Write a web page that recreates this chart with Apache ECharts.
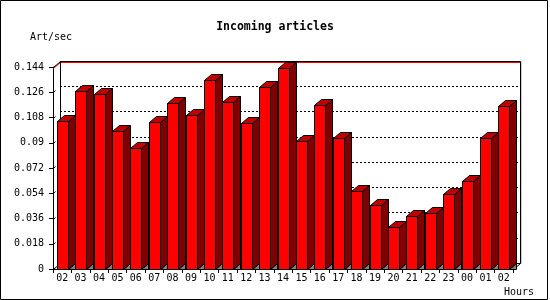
<!DOCTYPE html>
<html><head><meta charset="utf-8">
<script src="https://cdn.jsdelivr.net/npm/echarts@6/dist/echarts.min.js"></script>
<style>html,body{margin:0;padding:0;background:#fff}#c{width:550px;height:300px}</style>
</head><body><div id="c"></div>
<script>
const hours = ['02','03','04','05','06','07','08','09','10','11','12','13','14','15','16','17','18','19','20','21','22','23','00','01','02'];
const artPerSec = [0.1055,0.1269,0.1248,0.0984,0.0863,0.1048,0.1184,0.1098,0.1346,0.1190,0.1041,0.1297,0.1430,0.0913,0.1169,0.0934,0.0557,0.0458,0.0301,0.0379,0.0401,0.0536,0.0628,0.0934,0.1162];
const yTickLabels = ['0','0.018','0.036','0.054','0.072','0.09','0.108','0.126','0.144'];
const yMax = 0.144, yStep = 0.018;
const titleText = 'Incoming articles';
const yName = 'Art/sec';
const xName = 'Hours';

const DX = 7, DY = 6;
const FONT = '"DejaVu Sans Mono", "Liberation Mono", monospace';
const chart = echarts.init(document.getElementById('c'), null, {renderer: 'canvas'});
const maxVal = Math.max.apply(null, artPerSec);

function barItem(params, api) {
  const i = api.value(0), v = api.value(1);
  const p = api.coord([i, v]);
  const p0 = api.coord([i, 0]);
  const cw = api.size([1, 0])[0];
  const w = Math.round(cw * 0.6);
  const xl = Math.round(p[0] - w / 2) + 0.5;
  const xr = xl + w;
  const yt = Math.round(p[1]) + 0.5;
  const yb = Math.round(p0[1]) + 0.5;
  const st = {stroke: '#000', lineWidth: 1};
  return {type: 'group', children: [
    {type: 'polygon', shape: {points: [[xr, yb], [xr + DX, yb - DY], [xr + DX, yb]]}, style: Object.assign({fill: '#808080'}, st)},
    {type: 'polygon', shape: {points: [[xr, yt], [xr + DX, yt - DY], [xr + DX, yb - DY], [xr, yb]]}, style: Object.assign({fill: '#800000'}, st)},
    {type: 'polygon', shape: {points: [[xl, yt], [xl + DX, yt - DY], [xr + DX, yt - DY], [xr, yt]]}, style: Object.assign({fill: '#c00000'}, st)},
    {type: 'rect', shape: {x: xl, y: yt, width: w, height: yb - yt}, style: Object.assign({fill: '#ff0000'}, st)}
  ]};
}

function frameItem(params, api) {
  const cs = params.coordSys;
  const x0 = Math.round(cs.x) + 0.5, y0 = Math.round(cs.y) + 0.5;
  const x1 = Math.round(cs.x + cs.width) + 0.5, y1 = Math.round(cs.y + cs.height) + 0.5;
  const st = {stroke: '#000', lineWidth: 1};
  const ch = [
    {type: 'line', shape: {x1: x0, y1: y0, x2: x0 + DX, y2: y0 - DY}, style: st},
    {type: 'line', shape: {x1: x0, y1: y1, x2: x0 + DX, y2: y1 - DY}, style: st},
    {type: 'line', shape: {x1: x1, y1: y1, x2: x1 + DX, y2: y1 - DY}, style: st}
  ];
  yTickLabels.forEach(function (t) {
    const y = Math.round(api.coord([0, parseFloat(t)])[1]) + 0.5;
    ch.push({type: 'line', shape: {x1: x0, y1: y, x2: x0 + 2, y2: y - 2}, style: st});
  });
  return {type: 'group', children: ch};
}

function backWallItem(params, api) {
  const cs = params.coordSys;
  const x0 = Math.round(cs.x) + 0.5, x1 = Math.round(cs.x + cs.width) + 0.5;
  const y0 = Math.round(cs.y) + 0.5, y1 = Math.round(cs.y + cs.height) + 0.5;
  const y = Math.round(api.coord([0, api.value(1)])[1]) + 0.5;
  const st = {stroke: '#000', lineWidth: 1};
  return {type: 'group', children: [
    {type: 'line', shape: {x1: x1 + 1, y1: y0, x2: x1 + 1, y2: y1}, style: {stroke: '#c8c8c8', lineWidth: 1}},
    {type: 'polyline', shape: {points: [[x0 - DX, y + DY], [x0, y], [x1, y]]}, style: {stroke: '#ff0000', lineWidth: 1, fill: null}},
    {type: 'polyline', shape: {points: [[x0, y1], [x0, y0], [x1, y0], [x1, y1], [x0, y1]]}, style: {stroke: '#000', lineWidth: 1, fill: null}}
  ]};
}

chart.setOption({
  animation: false,
  backgroundColor: '#fff',
  grid: [
    {left: 53, top: 67, width: 460, height: 202, containLabel: false},
    {left: 60, top: 61, width: 460, height: 202}
  ],
  xAxis: [
    {type: 'category', gridIndex: 0, data: hours, boundaryGap: true,
     axisLine: {show: true, lineStyle: {color: '#000', width: 1}},
     axisTick: {show: true, length: 4, lineStyle: {color: '#000'}},
     axisLabel: {color: '#000', fontFamily: FONT, fontSize: 10, margin: 4, interval: 0}},
    {type: 'category', gridIndex: 1, data: hours, show: false}
  ],
  yAxis: [
    {type: 'value', gridIndex: 0, min: 0, max: yMax, interval: yStep,
     axisLine: {show: true, lineStyle: {color: '#000', width: 1}},
     axisTick: {show: true, length: 4, lineStyle: {color: '#000'}},
     splitLine: {show: false},
     axisLabel: {color: '#000', fontFamily: FONT, fontSize: 10, margin: 9,
       formatter: function (v, i) { return yTickLabels[i]; }}},
    {type: 'value', gridIndex: 1, min: 0, max: yMax, interval: yStep,
     axisLine: {show: false}, axisTick: {show: false}, axisLabel: {show: false},
     splitLine: {show: true, lineStyle: {color: '#000', type: [2, 2], width: 1}}}
  ],
  series: [
    {type: 'custom', xAxisIndex: 1, yAxisIndex: 1, z: 1, renderItem: backWallItem, data: [[0, maxVal]], silent: true},
    {type: 'custom', xAxisIndex: 0, yAxisIndex: 0, z: 2, renderItem: frameItem, data: [[0, 0]], silent: true},
    {type: 'custom', xAxisIndex: 0, yAxisIndex: 0, z: 3, renderItem: barItem,
     encode: {x: 0, y: 1}, data: artPerSec.map(function (v, i) { return [i, v]; })}
  ],
  graphic: [
    {type: 'rect', shape: {x: 0.5, y: 0.5, width: 547, height: 299}, style: {fill: null, stroke: '#000', lineWidth: 1}, z: 100},
    {type: 'text', left: 'center', top: 21, style: {text: titleText, font: 'bold 11.5px ' + FONT, fill: '#000'}},
    {type: 'text', left: 30, top: 32, style: {text: yName, font: '10px ' + FONT, fill: '#000'}},
    {type: 'text', left: 504, top: 287, style: {text: xName, font: '10px ' + FONT, fill: '#000'}}
  ]
});
</script></body></html>
